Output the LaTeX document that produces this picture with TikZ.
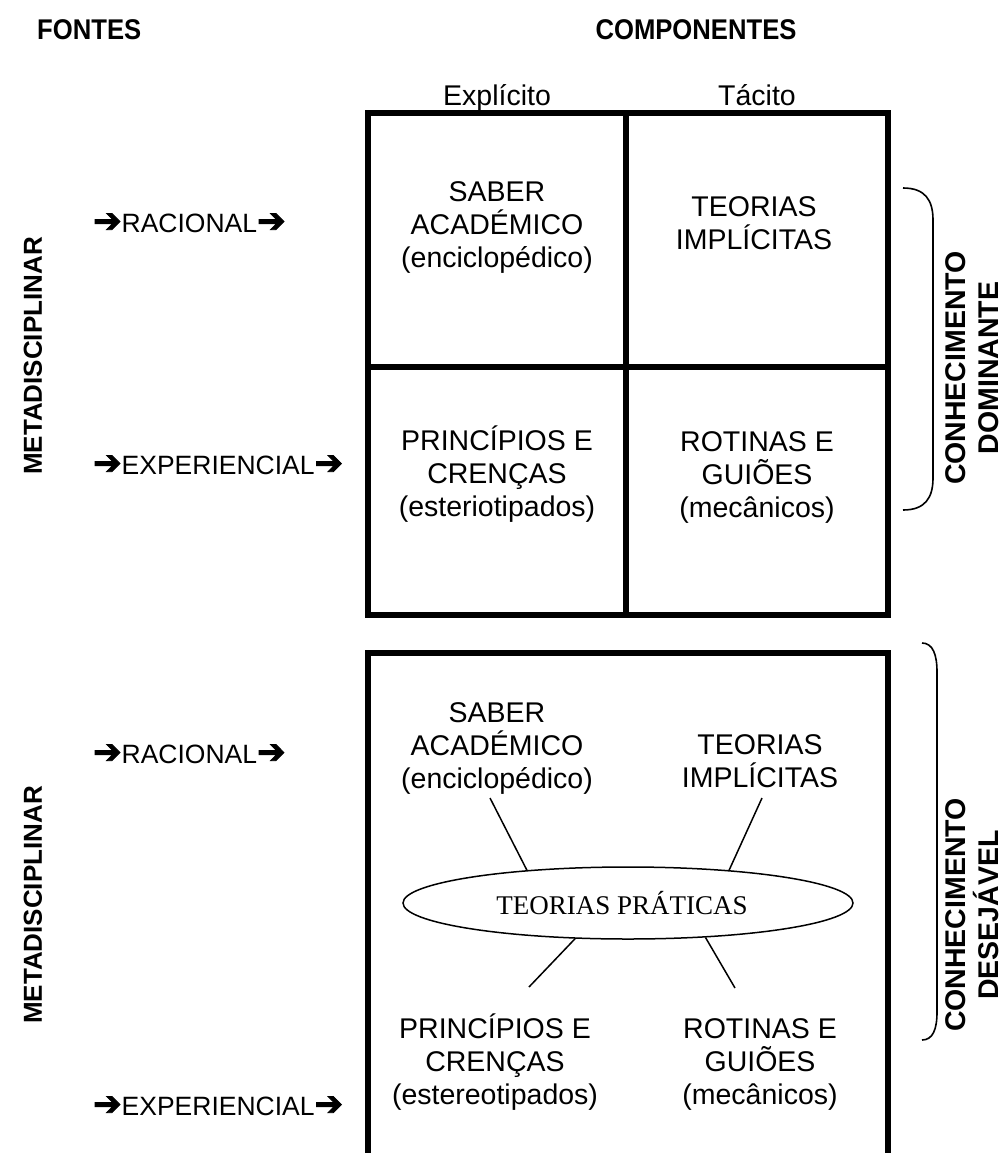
\documentclass[tikz,border=0pt]{standalone}
\usepackage{fontspec}
\setmainfont{Liberation Sans}
\newfontfamily\serifrm{Liberation Serif}
\newfontfamily\arrowfont[FakeBold=2.5]{DejaVu Sans}
\usetikzlibrary{shapes.geometric}
\newcommand{\harrow}{{\arrowfont\fontsize{34}{34}\selectfont\char"2794}}
\begin{document}
\begin{tikzpicture}[x=1pt,y=-1pt,
  frame/.style={line width=5.5pt},
  celltext/.style={align=center,font=\fontsize{28.5}{33}\selectfont,inner sep=0pt},
  srclabel/.style={font=\fontsize{26.5}{30}\selectfont,inner sep=0pt},
  head/.style={font=\bfseries\fontsize{28.5}{30}\selectfont,inner sep=0pt,xscale=0.9},
  sidelabel/.style={font=\bfseries\fontsize{26}{33}\selectfont,inner sep=0pt,rotate=90,align=center},
  knowlabel/.style={font=\bfseries\fontsize{28.5}{33}\selectfont,inner sep=0pt,rotate=90,align=center},
  spoke/.style={line width=1.5pt},
  bracket/.style={line width=1.6pt}]
\useasboundingbox (0,0) rectangle (1003,1153);
\clip (0,0) rectangle (1003,1153);

% headings
\node[head,anchor=west] (fontes) at (37,30) {FONTES};
\node[head] (comp) at (696,30) {COMPONENTES};
\node[font=\fontsize{28.5}{30}\selectfont,inner sep=0pt,anchor=base] (expl) at (497,106) {Explícito};
\node[font=\fontsize{28.5}{30}\selectfont,inner sep=0pt,anchor=base] (tac) at (757,106) {Tácito};

% upper grid
\draw[frame] (368,113) rectangle (888,615);
\draw[frame] (626,113) -- (626,615);
\draw[frame] (368,367) -- (888,367);

\node[celltext] (saberA) at (497,228) {SABER\\ACADÉMICO\\(enciclopédico)};
\node[celltext] (teoA) at (754,223) {TEORIAS\\IMPLÍCITAS};
\node[celltext] (princA) at (497,474) {PRINCÍPIOS E\\CRENÇAS\\(esteriotipados)};
\node[celltext] (rotA) at (757,477) {ROTINAS E\\GUIÕES\\(mecânicos)};

% sources, upper part
\node[srclabel,anchor=west] (racA) at (93,223) {\harrow RACIONAL\harrow};
\node[srclabel,anchor=west] (expA) at (93,465) {\harrow EXPERIENCIAL\harrow};
\node[sidelabel] (metaA) at (33,356) {METADISCIPLINAR};

% bracket and label, upper part
\draw[bracket] (903,188) .. controls (925,188) and (933,200) .. (933,220)
  -- (933,478) .. controls (933,498) and (925,510) .. (903,510);
\node[knowlabel] (domA) at (972,368) {CONHECIMENTO\\DOMINANTE};

% lower frame, open at the bottom
\draw[frame] (368,1170) -- (368,653) -- (888,653) -- (888,1170);

\node[celltext] (saberB) at (497,748) {SABER\\ACADÉMICO\\(enciclopédico)};
\node[celltext] (teoB) at (760,761) {TEORIAS\\IMPLÍCITAS};
\node[celltext] (princB) at (495,1062) {PRINCÍPIOS E\\CRENÇAS\\(estereotipados)};
\node[celltext] (rotB) at (760,1064) {ROTINAS E\\GUIÕES\\(mecânicos)};

\node[draw,ellipse,line width=1.5pt,minimum width=450,minimum height=72,inner sep=0pt] (tp) at (628,903) {};
\node[font=\serifrm\fontsize{27}{30}\selectfont,inner sep=0pt] (tptext) at (622,903) {TEORIAS PRÁTICAS};

\coordinate (ulEnd) at (490,798);
\coordinate (urEnd) at (762,798);
\coordinate (llEnd) at (529,987);
\coordinate (lrEnd) at (735,988);
\draw[spoke] (ulEnd) -- (tp.162.1);
\draw[spoke] (urEnd) -- (tp.18.9);
\draw[spoke] (llEnd) -- (tp.-146.6);
\draw[spoke] (lrEnd) -- (tp.-24.3);

% sources, lower part
\node[srclabel,anchor=west] (racB) at (93,754) {\harrow RACIONAL\harrow};
\node[srclabel,anchor=west] (expB) at (93,1106) {\harrow EXPERIENCIAL\harrow};
\node[sidelabel] (metaB) at (33,905) {METADISCIPLINAR};

% bracket and label, lower part
\draw[bracket] (922,643) .. controls (933,643) and (937,655) .. (937,672)
  -- (937,1012) .. controls (937,1029) and (933,1040) .. (922,1040);
\node[knowlabel] (desB) at (972,915) {CONHECIMENTO\\DESEJÁVEL};
\end{tikzpicture}
\end{document}
